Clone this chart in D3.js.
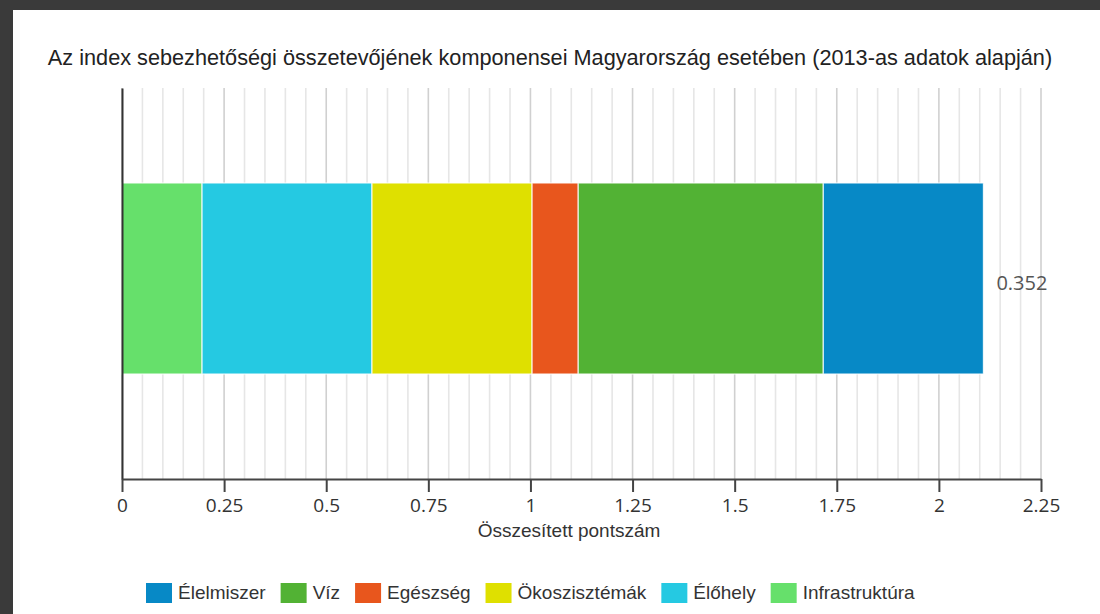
<!DOCTYPE html>
<html>
<head>
<meta charset="utf-8">
<script src="https://cdn.jsdelivr.net/npm/d3@7"></script>
<style>
  html, body { margin: 0; padding: 0; background: #3a3a3a; overflow: hidden; width: 1100px; height: 614px; }
  svg { display: block; }
</style>
</head>
<body>
<svg id="chart" width="1100" height="614"></svg>
<script>
// ---- data ----
const categories = ["Magyarország"];
const components = ["Élelmiszer", "Víz", "Egészség", "Ökoszisztémák", "Élőhely", "Infrastruktúra"];
const componentValues = [0.392, 0.600, 0.113, 0.392, 0.416, 0.196];
const stackOrder = ["Infrastruktúra", "Élőhely", "Ökoszisztémák", "Egészség", "Víz", "Élelmiszer"];
const indexScore = "0.352";
const tickValues = [0, 0.25, 0.5, 0.75, 1, 1.25, 1.5, 1.75, 2, 2.25];
const tickLabels = ["0", "0.25", "0.5", "0.75", "1", "1.25", "1.5", "1.75", "2", "2.25"];
const titleText = "Az index sebezhetőségi összetevőjének komponensei Magyarország esetében (2013-as adatok alapján)";
const xAxisTitle = "Összesített pontszám";

// ---- styles ----
const colors = {
  "Élelmiszer": "#0789c6",
  "Víz": "#52b234",
  "Egészség": "#e8561d",
  "Ökoszisztémák": "#dfe000",
  "Élőhely": "#25c9e2",
  "Infrastruktúra": "#66e06b"
};

const svg = d3.select("#chart");
// white panel over photo background
svg.append("rect").attr("x", 13).attr("y", 10).attr("width", 1100 - 13).attr("height", 614 - 10).attr("fill", "#ffffff");

const plot = { left: 122, right: 1041, top: 88, bottom: 479 };

const x = d3.scaleLinear().domain([0, 2.25]).range([plot.left, plot.right]);
const y = d3.scaleBand().domain(categories).range([plot.top, plot.bottom])
  .paddingInner(0.3436).paddingOuter(0.3436).align(0.475);

// grid lines
const gridVals = d3.range(0, 46).map(i => +(i * 0.05).toFixed(2));
svg.append("g").selectAll("line").data(gridVals).join("line")
  .attr("x1", d => x(d)).attr("x2", d => x(d))
  .attr("y1", plot.top).attr("y2", plot.bottom)
  .attr("stroke", d => (Math.round(d * 100) % 25 === 0) ? "#d0d0d0" : "#e6e6e6")
  .attr("stroke-width", 1.6);

// stacked bar
const row = { cat: categories[0] };
components.forEach((c, i) => row[c] = componentValues[i]);
const series = d3.stack().keys(stackOrder)([row]);

svg.append("g").selectAll("rect").data(series).join("rect")
  .attr("x", s => x(s[0][0]))
  .attr("width", s => x(s[0][1]) - x(s[0][0]))
  .attr("y", s => y(s[0].data.cat))
  .attr("height", y.bandwidth())
  .attr("fill", s => colors[s.key])
  .attr("stroke", "#ffffff")
  .attr("stroke-opacity", 0.8)
  .attr("stroke-width", 1.2);

// total label
const total = d3.sum(componentValues);
svg.append("text")
  .attr("x", x(total) + 13)
  .attr("y", y(categories[0]) + y.bandwidth() / 2 + 11)
  .attr("font-family", "Open Sans, sans-serif")
  .attr("font-size", 20)
  .attr("fill", "#555")
  .text(indexScore);

// left axis line
const yAxis = svg.append("g").attr("transform", `translate(${plot.left},0)`)
  .call(d3.axisLeft(y).tickSize(0).tickFormat(""));
yAxis.select(".domain").attr("stroke", "#333").attr("stroke-width", 2);

// bottom axis
const xAxis = svg.append("g").attr("transform", `translate(0,${plot.bottom})`)
  .call(d3.axisBottom(x).tickValues(tickValues).tickSize(13).tickSizeOuter(0)
    .tickFormat((d, i) => tickLabels[i]));
xAxis.select(".domain").attr("stroke", "#444").attr("stroke-width", 2);
xAxis.selectAll(".tick line").attr("stroke", "#444").attr("stroke-width", 2);
xAxis.selectAll(".tick text")
  .attr("font-family", "Open Sans, sans-serif")
  .attr("font-size", 19)
  .attr("fill", "#333")
  .attr("dy", null)
  .attr("y", 33);

// title
svg.append("text")
  .attr("x", 550).attr("y", 65)
  .attr("text-anchor", "middle")
  .attr("font-family", "Liberation Sans, Arial, sans-serif")
  .attr("font-size", 21.7)
  .attr("fill", "#222")
  .text(titleText);

// axis title
svg.append("text")
  .attr("x", 569).attr("y", 537)
  .attr("text-anchor", "middle")
  .attr("font-family", "Liberation Sans, Arial, sans-serif")
  .attr("font-size", 19)
  .attr("fill", "#333")
  .text(xAxisTitle);

// legend
const legend = svg.append("g");
let lx = 146;
components.forEach((c) => {
  const g = legend.append("g").attr("transform", `translate(${lx},583)`);
  g.append("rect").attr("width", 26).attr("height", 20).attr("fill", colors[c]);
  const t = g.append("text").attr("x", 32).attr("y", 16)
    .attr("font-family", "Liberation Sans, Arial, sans-serif")
    .attr("font-size", 19)
    .attr("fill", "#333")
    .text(c);
  lx += 32 + t.node().getComputedTextLength() + 15;
});
</script>
</body>
</html>
